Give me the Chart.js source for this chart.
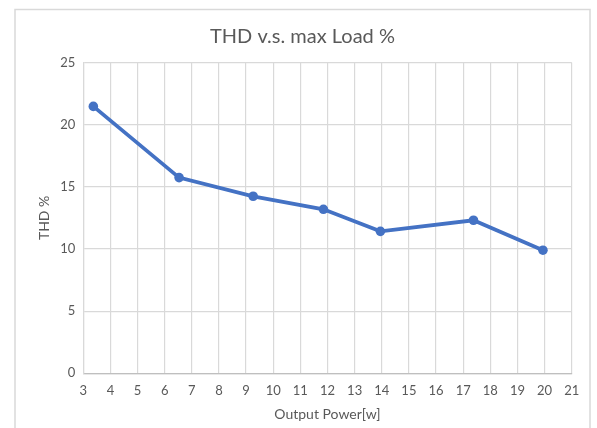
<!DOCTYPE html>
<html>
<head>
<meta charset="utf-8">
<script src="https://cdn.jsdelivr.net/npm/chart.js@4"></script>
<style>
  html, body { margin: 0; padding: 0; background: #ffffff; }
  #wrap { width: 597px; height: 428px; }
</style>
</head>
<body>
<div id="wrap"><canvas id="thd-chart" width="597" height="428"></canvas></div>
<script>
// values
const chartTitle = 'THD v.s. max Load %';
const xTitle = 'Output Power[w]';
const yTitle = 'THD %';
const outputPower = [3.37, 6.53, 9.26, 11.85, 13.95, 17.38, 19.94];
const thdPercent = [21.47, 15.74, 14.24, 13.19, 11.42, 12.31, 9.9];
const xRange = [3, 21];
const yRange = [0, 25];

const textColor = '#595959';
const gridColor = '#d9d9d9';
const lineColor = '#4472c4';

// light grey frame round the chart, like the excel chart box
const framePlugin = {
    id: 'frame',
    beforeDraw(chart) {
        const ctx = chart.ctx;
        ctx.save();
        ctx.strokeStyle = gridColor;
        ctx.lineWidth = 1.5;
        ctx.strokeRect(15, 9.5, 575, 440);
        ctx.restore();
    }
};

const points = outputPower.map((x, i) => ({ x: x, y: thdPercent[i] }));

const ctx = document.getElementById('thd-chart').getContext('2d');
new Chart(ctx, {
    type: 'scatter',
    data: {
        datasets: [{
            label: yTitle,
            data: points,
            showLine: true,
            borderColor: lineColor,
            backgroundColor: lineColor,
            borderWidth: 3.8,
            pointRadius: 4.8,
            pointBorderWidth: 0,
            pointBackgroundColor: lineColor,
            tension: 0
        }]
    },
    options: {
        responsive: false,
        animation: false,
        layout: {
            padding: { left: 15, right: 7, top: 0, bottom: 0 }
        },
        scales: {
            x: {
                type: 'linear',
                min: xRange[0],
                max: xRange[1],
                ticks: {
                    stepSize: 1,
                    padding: 10,
                    color: textColor,
                    font: { family: 'Lato', size: 13 }
                },
                grid: { color: gridColor, lineWidth: 1.2, drawTicks: false },
                border: { color: '#bfbfbf', width: 1.2 },
                title: {
                    display: true,
                    text: xTitle,
                    color: textColor,
                    font: { family: 'Lato', size: 14 },
                    padding: { top: 0, bottom: 5 }
                },
                afterFit: function(scale) { scale.height = 54.7; }
            },
            y: {
                type: 'linear',
                min: yRange[0],
                max: yRange[1],
                ticks: {
                    stepSize: 5,
                    padding: 8,
                    color: textColor,
                    font: { family: 'Lato', size: 13 }
                },
                grid: { color: gridColor, lineWidth: 1.2, drawTicks: false },
                border: { color: gridColor, width: 1.2 },
                title: {
                    display: true,
                    text: yTitle,
                    color: textColor,
                    font: { family: 'Lato', size: 14 },
                    padding: { top: 21, bottom: 0 }
                },
                afterFit: function(scale) { scale.width = 68.3; }
            },
            // empty axis on the right, only to keep the plot off the frame
            yRight: {
                type: 'linear',
                position: 'right',
                min: yRange[0],
                max: yRange[1],
                ticks: { display: false },
                grid: { display: false, drawOnChartArea: false },
                border: { display: false },
                afterFit: function(scale) { scale.width = 18.3; }
            }
        },
        plugins: {
            legend: { display: false },
            tooltip: { enabled: false },
            title: {
                display: true,
                text: chartTitle,
                color: textColor,
                font: { family: 'Lato', size: 20, weight: 'normal' },
                padding: { top: 24.5, bottom: 14 }
            }
        }
    },
    plugins: [framePlugin]
});
</script>
</body>
</html>
